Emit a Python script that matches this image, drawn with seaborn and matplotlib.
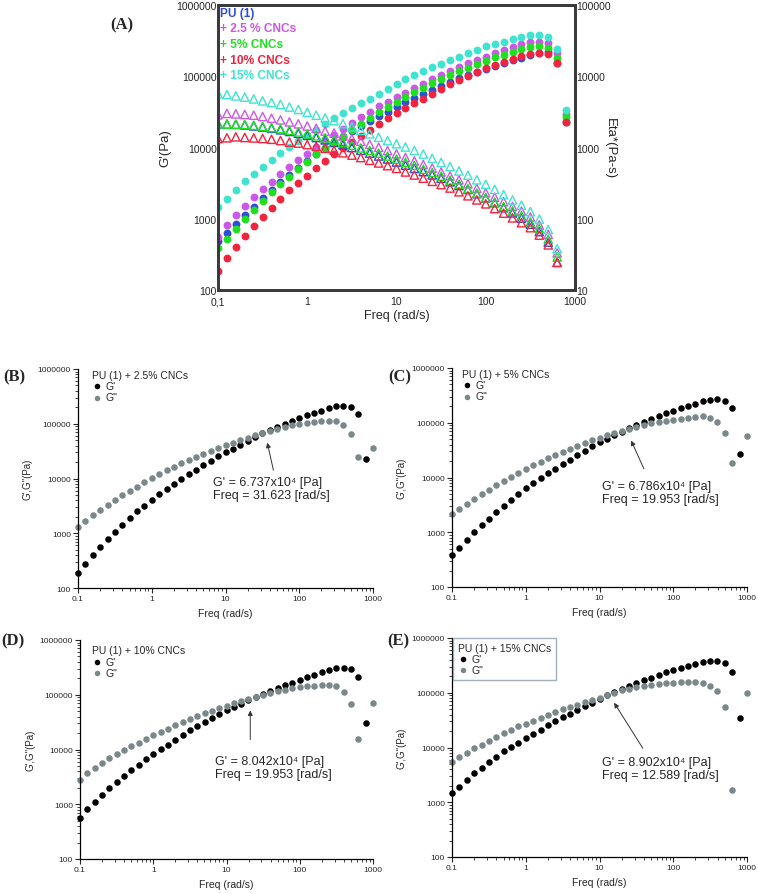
import numpy as np
import matplotlib
matplotlib.use("Agg")
import matplotlib.pyplot as plt
import seaborn as sns
from matplotlib.lines import Line2D
from matplotlib.ticker import NullFormatter

nan = np.nan

# angular frequency (rad/s), 10 points per decade
freq = [0.1, 0.1259, 0.1585, 0.1995, 0.2512, 0.3162, 0.3981, 0.5012, 0.631, 0.7943,
        1.0, 1.259, 1.585, 1.995, 2.512, 3.162, 3.981, 5.012, 6.31, 7.943,
        10.0, 12.59, 15.85, 19.95, 25.12, 31.62, 39.81, 50.12, 63.1, 79.43,
        100.0, 125.9, 158.5, 199.5, 251.2, 316.2, 398.1, 501.2, 631.0, 794.3, 1000.0]

# G' and G'' (Pa) for panels B-E
gp_b = [186, 277, 404, 565, 790, 1050, 1410, 1870, 2500, 3170, 4040, 5120, 6500, 8100, 9800,
        12100, 14600, 17700, 21300, 25600, 30300, 35300, 41700, 48500, 57000, 67000, 77000,
        88000, 100000, 113000, 129000, 142000, 158000, 173000, 191000, 208000, 215000,
        205000, 152000, 23000, nan]
gpp_b = [1320, 1700, 2200, 2700, 3330, 4100, 5000, 6000, 7100, 8600, 10200, 12000, 14000,
         16400, 18800, 21600, 24800, 28000, 31800, 36000, 41000, 45000, 50000, 56000, 62000,
         68000, 75000, 81000, 87000, 93000, 98000, 103000, 106000, 110000, 113000, 113000,
         95000, 66000, 24600, nan, 35700]
gp_c = [385, 525, 720, 1000, 1340, 1780, 2390, 3030, 3900, 5000, 6300, 7980, 9700, 12000,
        14600, 17800, 21300, 25900, 31000, 37000, 43700, 51500, 60000, 69000, 80000, 92000,
        104000, 118000, 132000, 148000, 165000, 184000, 200000, 222000, 245000, 258000,
        270000, 250000, 183000, 26800, nan]
gpp_c = [2130, 2630, 3300, 4070, 4970, 6000, 7200, 8700, 10300, 12200, 14200, 16600, 19400,
         22300, 25600, 29000, 33000, 37400, 42500, 47700, 53000, 59000, 66000, 71000, 78000,
         85000, 91000, 98000, 102000, 106000, 110000, 115000, 122000, 129000, 131000, 124000,
         103000, 66000, 18300, nan, 57000]
gp_d = [560, 810, 1120, 1500, 2000, 2600, 3330, 4250, 5300, 6650, 8150, 10200, 12300, 15200,
        18200, 22300, 27000, 32000, 38000, 44000, 51700, 59000, 68500, 79000, 91000, 103000,
        118000, 134000, 151000, 167000, 188000, 210000, 234000, 258000, 286000, 302000,
        307000, 295000, 209000, 30000, nan]
gpp_d = [2820, 3700, 4560, 5600, 6850, 8200, 9700, 11500, 13400, 15700, 18300, 21000, 24000,
         28000, 31600, 35700, 40500, 45500, 51000, 57000, 63000, 69500, 76500, 84500, 92000,
         100000, 107000, 115000, 124000, 131000, 136000, 142000, 146000, 148000, 148000,
         142000, 112000, 68500, 15800, nan, 71000]
gp_e = [1470, 1920, 2570, 3370, 4270, 5400, 6700, 8500, 10200, 12300, 14800, 17800, 21300,
        25600, 30300, 35700, 41700, 48700, 56700, 66000, 78000, 91000, 104000, 118000, 133000,
        149000, 169000, 189000, 213000, 236000, 263000, 285000, 306000, 333000, 360000,
        375000, 380000, 350000, 240000, 34000, nan]
gpp_e = [5500, 6700, 8000, 9600, 11300, 13200, 15600, 18300, 21000, 24200, 27400, 31000,
         35300, 40000, 45000, 50300, 55300, 61000, 67000, 74000, 81500, 90000, 99000, 110000,
         117000, 126000, 133000, 140000, 146000, 150000, 152000, 156000, 160000, 156000,
         150000, 135000, 107000, 56000, 1650, nan, 98000]

# panel A: neat PU G' (the others reuse the panel data) and Eta* (Pa-s)
gp_pu = [480, 640, 850, 1130, 1480, 1950, 2550, 3250, 4150, 5200, 6500, 8000, 9800, 11800,
         14200, 17000, 20000, 23500, 27500, 32000, 37000, 43000, 49500, 57000, 65000, 74000,
         83000, 93000, 104000, 115000, 127000, 140000, 153000, 167000, 182000, 198000,
         212000, 216000, 155000, 23000]
eta_pu = [2150, 2130, 2110, 2070, 2010, 1940, 1860, 1770, 1680, 1580, 1480, 1380, 1280, 1180,
          1090, 1000, 915, 835, 760, 690, 625, 565, 510, 460, 413, 370, 330, 293, 258, 225,
          196, 168, 143, 121, 102, 84, 66, 47, 24.5]
eta_b = [1333, 1368, 1411, 1383, 1362, 1338, 1305, 1254, 1193, 1154, 1097, 1036, 974, 917,
         844, 783, 723, 661, 607, 556, 510, 454, 411, 371, 335, 302, 270, 239, 210, 184, 162,
         139, 120, 103, 88, 75, 59, 43, 24.4]
eta_c = [2165, 2130, 2131, 2101, 2049, 1979, 1906, 1838, 1745, 1660, 1553, 1463, 1368, 1269,
         1173, 1076, 987, 908, 834, 760, 687, 622, 563, 496, 445, 396, 347, 306, 264, 229,
         198, 172, 148, 129, 111, 90.5, 72.6, 51.6, 29.1]
eta_d = [2875, 3009, 2963, 2906, 2841, 2720, 2576, 2446, 2284, 2147, 2003, 1854, 1701, 1597,
         1452, 1331, 1223, 1110, 1008, 907, 815, 724, 648, 580, 515, 454, 400, 352, 310, 267,
         232, 201, 174, 149, 128, 106, 82, 60.4, 33.2]
eta_e = [5693, 5536, 5301, 5100, 4809, 4510, 4265, 4026, 3700, 3418, 3114, 2839, 2601, 2380,
         2160, 1951, 1740, 1557, 1391, 1248, 1128, 1017, 906, 809, 705, 617, 540, 469, 409,
         352, 304, 258, 218, 184, 155, 126, 99, 70.7, 38.0]

legend_a = ["PU (1)", "+ 2.5 % CNCs", "+ 5% CNCs", "+ 10% CNCs", "+ 15% CNCs"]
colors_a = ["#2c4fd6", "#cc58e8", "#1fe01f", "#f2233e", "#3fe3cf"]
y_ticks = [100, 1000, 10000, 100000, 1000000]
x_ticks = [0.1, 1, 10, 100, 1000]

sns.set_style("ticks")
plt.rcParams['font.family'] = ['Liberation Sans', 'DejaVu Sans']

W, H = 758, 895
fig = plt.figure(figsize=(W / 100, H / 100), dpi=100)


def rect(l, t, r, b):
    return [l / W, 1 - b / H, (r - l) / W, (b - t) / H]


# ---- panel A ----
axA = fig.add_axes(rect(218, 6, 575, 291))
axA2 = axA.twinx()
gp_series = [gp_pu, gp_d, gp_c, gp_b, gp_e]
eta_series = [eta_pu, eta_d, eta_c, eta_b, eta_e]
for gp, col in zip(gp_series, colors_a):
    sns.scatterplot(x=freq[:40], y=gp[:40], color=col, edgecolor=col, s=32, linewidth=0,
                    ax=axA, legend=False)
for eta, col in zip(eta_series, colors_a):
    sns.scatterplot(x=freq[:39], y=eta, marker='^', color=col, facecolor='none',
                    edgecolor=col, s=36, linewidth=1.0, ax=axA2, legend=False)

for a in (axA, axA2):
    a.set_xscale('log')
    a.set_yscale('log')
    a.set_xlim(0.1, 1000)
    a.tick_params(which='both', length=0, labelsize=7.5, pad=1)
    a.tick_params(axis='x', pad=4.5)
    a.yaxis.set_minor_formatter(NullFormatter())
    for sp in a.spines.values():
        sp.set_visible(True)
        sp.set_linewidth(2)
        sp.set_color('#3a3a3a')
axA.set_ylim(100, 1e6)
axA2.set_ylim(10, 1e5)
axA.set_xticks(x_ticks, labels=["0,1", "1", "10", "100", "1000"])
axA.xaxis.set_minor_formatter(NullFormatter())
axA.set_yticks(y_ticks, labels=[str(v) for v in y_ticks])
axA2.set_yticks([10, 100, 1000, 10000, 100000], labels=["10", "100", "1000", "10000", "100000"])
axA.set_xlabel("Freq (rad/s)", fontsize=9)
axA.xaxis.set_label_coords(0.5, -0.066)
axA.set_ylabel("G'(Pa)", fontsize=9.5)
axA.yaxis.set_label_coords(-0.132, 0.5)
axA2.set_ylabel("Eta*(Pa-s)", fontsize=9.5, rotation=270, va='bottom')
axA2.yaxis.set_label_coords(1.081, 0.5)

handles = [Line2D([], [], linestyle='none') for _ in legend_a]
leg = axA2.legend(handles, legend_a, loc='upper left', bbox_to_anchor=(0.0, 1.0),
                  frameon=False, handlelength=0, handletextpad=0, borderaxespad=0,
                  borderpad=0.15, labelspacing=0.3, prop={'weight': 'bold', 'size': 8.6})
for txt, col in zip(leg.get_texts(), colors_a):
    txt.set_color(col)

# ---- panels B-E ----
gray = "#7b888a"


def panel(box, gp, gpp, title, note, tip, tail, note_xy, leg_xy, framed=False):
    ax = fig.add_axes(rect(*box))
    sns.scatterplot(x=freq, y=gp, color='black', s=22, linewidth=0, ax=ax, label="G'",
                    clip_on=False)
    sns.scatterplot(x=freq, y=gpp, color=gray, s=22, linewidth=0, ax=ax, label='G"',
                    clip_on=False)
    ax.set_xscale('log')
    ax.set_yscale('log')
    ax.set_xlim(0.1, 1000)
    ax.set_ylim(100, 1e6)
    ax.set_xticks(x_ticks, labels=["0.1", "1", "10", "100", "1000"])
    ax.set_yticks(y_ticks, labels=[str(v) for v in y_ticks])
    ax.xaxis.set_minor_formatter(NullFormatter())
    ax.yaxis.set_minor_formatter(NullFormatter())
    sns.despine(ax=ax)
    for sp in ('left', 'bottom'):
        ax.spines[sp].set_linewidth(0.9)
        ax.spines[sp].set_color('black')
    ax.tick_params(which='major', direction='out', length=3.5, width=0.8, labelsize=6, pad=1.5)
    ax.tick_params(which='minor', direction='out', length=2, width=0.6)
    ax.set_xlabel("Freq (rad/s)", fontsize=7.5)
    ax.xaxis.set_label_coords(0.5, -0.09)
    ax.set_ylabel('G\',G"(Pa)', fontsize=7)
    ax.yaxis.set_label_coords(-0.153, 0.5)

    lg = ax.legend(title=title, loc='upper left', bbox_to_anchor=leg_xy, frameon=framed,
                   fontsize=7.5, title_fontsize=7.5, alignment='left', handlelength=1.0,
                   handletextpad=0.3, borderpad=0.45 if framed else 0.3, labelspacing=0.12,
                   borderaxespad=0, markerscale=0.85, fancybox=False)
    if framed:
        lg.get_frame().set_edgecolor('#8c9bab')
        lg.get_frame().set_linewidth(1.0)

    ax.annotate('', xy=tip, xytext=tail,
                arrowprops=dict(arrowstyle='-|>', color='#333333', lw=0.7, mutation_scale=7))
    ax.text(note_xy[0], note_xy[1], note, fontsize=9, ha='left', va='top', linespacing=1.1)
    return ax


panel((78, 370, 373, 589), gp_b, gpp_b, "PU (1) + 2.5% CNCs",
      "G' = 6.737x10\u2074 [Pa]\nFreq = 31.623 [rad/s]",
      (36.2, 50500), (45.5, 12600), (6.8, 11100), (0.037, 1.01))
panel((452, 369, 747, 588), gp_c, gpp_c, "PU (1) + 5% CNCs",
      "G' = 6.786x10\u2074 [Pa]\nFreq = 19.953 [rad/s]",
      (25.9, 52600), (41.4, 13000), (10.9, 9000), (0.022, 1.01))
panel((80, 641, 373, 860), gp_d, gpp_d, "PU (1) + 10% CNCs",
      "G' = 8.042x10\u2074 [Pa]\nFreq = 19.953 [rad/s]",
      (21.1, 58000), (21.1, 13500), (7.0, 7940), (0.031, 0.99))
panel((452, 639, 747, 858), gp_e, gpp_e, "PU (1) + 15% CNCs",
      "G' = 8.902x10\u2074 [Pa]\nFreq = 12.589 [rad/s]",
      (15.1, 72300), (40.5, 8770), (10.9, 6900), (0.003, 1.0), framed=True)

# panel letters
for lbl, x, y in [("(A)", 122, 25), ("(B)", 14, 377), ("(C)", 400, 377),
                  ("(D)", 13, 641), ("(E)", 398, 641)]:
    fig.text(x / W, 1 - y / H, lbl, family='Liberation Serif', weight='bold', fontsize=12,
             ha='center', va='center')

fig.savefig("out.png", dpi=100)
